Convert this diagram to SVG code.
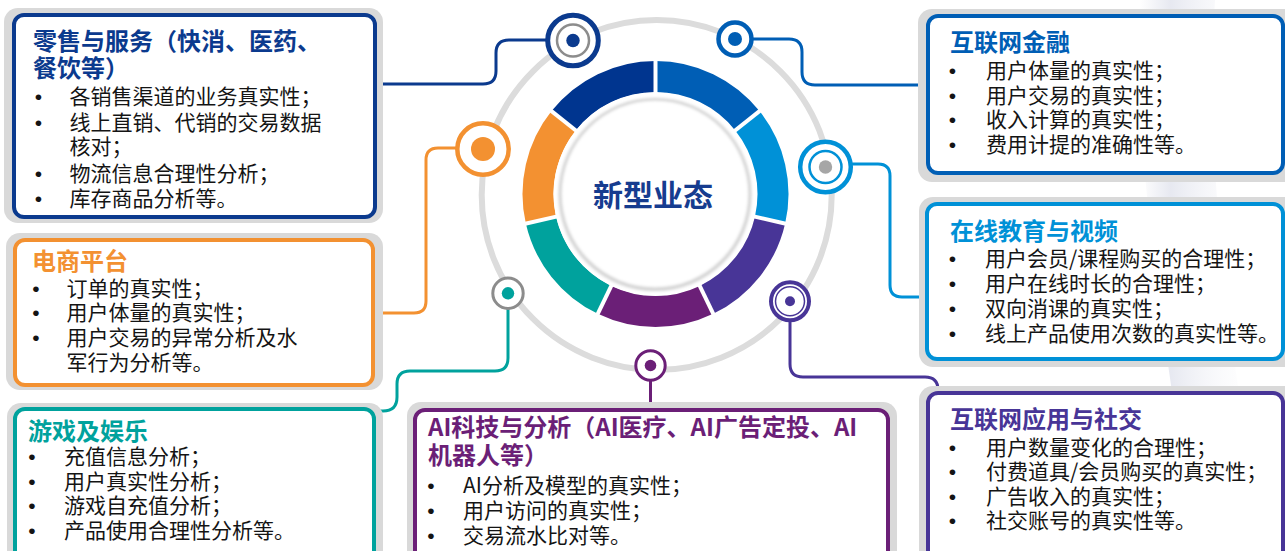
<svg xmlns="http://www.w3.org/2000/svg" width="1285" height="551" viewBox="0 0 1285 551">
  <defs>
    <style>
      .t { font-family: "Noto Sans CJK SC", "Noto Sans", sans-serif; font-weight: 700; font-size: 24px; }
      .b { font-family: "Noto Sans CJK SC", "Noto Sans", sans-serif; font-size: 21px; fill: #141414; }
      .d { font-family: "Liberation Sans", sans-serif; font-size: 21px; fill: #141414; text-anchor: middle; }
      .sh { fill: #d9d9d9; }
      .box { fill: #ffffff; stroke-width: 4; }
      .conn { fill: none; stroke-width: 3; stroke-linecap: round; }
      .seg { fill: none; stroke-width: 31; }
      .gap { stroke: #ffffff; stroke-width: 4; }
    </style>
    <linearGradient id="swoosh" x1="0" y1="0" x2="1" y2="0">
      <stop offset="0" stop-color="#e4e6ef" stop-opacity="0"/>
      <stop offset="0.25" stop-color="#e4e6ef" stop-opacity="0.9"/>
      <stop offset="1" stop-color="#ffffff" stop-opacity="0"/>
    </linearGradient>
    <filter id="soft" x="-20%" y="-20%" width="140%" height="140%">
      <feGaussianBlur stdDeviation="1.6"/>
    </filter>
  </defs>

  <rect x="0" y="0" width="1285" height="551" fill="#ffffff"/>
  <path d="M1140,0 L1215,0 C1205,150 1225,330 1265,551 L1195,551 C1165,330 1135,190 1140,0 Z" fill="url(#swoosh)"/>

  <!-- central node -->
  <g id="center">
    <circle cx="656.7" cy="195" r="175" fill="none" stroke="#dcdcdc" stroke-width="6"/>
    <path class="seg" stroke="#00358f" d="M655.5,76.5 A117.5,117.5 0 0 0 563.64,120.74"/>
    <path class="seg" stroke="#f39131" d="M563.64,120.74 A117.5,117.5 0 0 0 540.95,220.14"/>
    <path class="seg" stroke="#00a29d" d="M540.95,220.14 A117.5,117.5 0 0 0 604.52,299.87"/>
    <path class="seg" stroke="#6b1f77" d="M604.52,299.87 A117.5,117.5 0 0 0 706.48,299.87"/>
    <path class="seg" stroke="#483597" d="M706.48,299.87 A117.5,117.5 0 0 0 770.05,220.14"/>
    <path class="seg" stroke="#0091d7" d="M770.05,220.14 A117.5,117.5 0 0 0 747.36,120.74"/>
    <path class="seg" stroke="#005eb5" d="M747.36,120.74 A117.5,117.5 0 0 0 655.5,76.5"/>
    <line class="gap" x1="655.5" y1="99" x2="655.5" y2="57"/>
    <line class="gap" x1="581.23" y1="134.77" x2="548.39" y2="108.58"/>
    <line class="gap" x1="562.88" y1="215.14" x2="521.94" y2="224.48"/>
    <line class="gap" x1="614.28" y1="279.6" x2="596.06" y2="317.44"/>
    <line class="gap" x1="696.72" y1="279.6" x2="714.94" y2="317.44"/>
    <line class="gap" x1="748.12" y1="215.14" x2="789.06" y2="224.48"/>
    <line class="gap" x1="729.77" y1="134.77" x2="762.61" y2="108.58"/>
    <circle cx="655" cy="194" r="101.5" fill="#ffffff"/>
    <circle cx="655" cy="194.5" r="96.5" fill="#d2d2d2" filter="url(#soft)"/>
    <circle cx="655" cy="194" r="93.5" fill="#ffffff" filter="url(#soft)"/>
    <text x="653" y="206" text-anchor="middle" class="t" style="font-size:30px" fill="#163c8f">新型业态</text>
  </g>

  <!-- connectors -->
  <g id="connectors">
    <path class="conn" stroke="#0b3a8e" d="M377,84 H483 Q496,84 496,71 V53 Q496,40 509,40 H548"/>
    <path class="conn" stroke="#005eb5" d="M752,39 H789 Q802,39 802,52 V72 Q802,85 815,85 H926"/>
    <path class="conn" stroke="#f39131" d="M457,148 H438 Q426,148 426,160 V301 Q426,313 414,313 H375"/>
    <path class="conn" stroke="#0091d7" d="M851,164 H878 Q890,164 890,176 V285 Q890,297 902,297 H926"/>
    <path class="conn" stroke="#00a29d" d="M508,308 V358 Q508,371 495,371 H410 Q397,371 397,384 V397 Q397,411 383,411 H376"/>
    <path class="conn" stroke="#483597" d="M790,320 V364 Q790,377 803,377 H925 Q938,377 938,390 V392"/>
    <path class="conn" stroke="#6b1f77" d="M650.5,380 V409"/>

    <g id="marker-retail">
      <circle cx="573" cy="40.5" r="25.3" fill="#ffffff" stroke="#0b3a8e" stroke-width="5"/>
      <circle cx="573" cy="40.5" r="16" fill="none" stroke="#8c8c8c" stroke-width="2.5"/>
      <circle cx="573" cy="40.5" r="6.7" fill="#0b3a8e"/>
    </g>
    <g id="marker-finance">
      <circle cx="735" cy="39" r="16.5" fill="#ffffff" stroke="#005eb5" stroke-width="4.5"/>
      <circle cx="735" cy="39" r="7" fill="#005eb5"/>
    </g>
    <g id="marker-ecommerce">
      <circle cx="483" cy="149" r="25.7" fill="#ffffff" stroke="#f39131" stroke-width="4.5"/>
      <circle cx="483" cy="149" r="12" fill="#f39131"/>
    </g>
    <g id="marker-education">
      <circle cx="825.5" cy="167" r="25.3" fill="#ffffff" stroke="#0091d7" stroke-width="4.5"/>
      <circle cx="825.5" cy="167" r="16" fill="none" stroke="#0091d7" stroke-width="2.5"/>
      <circle cx="825.5" cy="167" r="6.7" fill="#a6a6a6"/>
    </g>
    <g id="marker-games">
      <circle cx="508" cy="293.3" r="15.2" fill="#ffffff" stroke="#8c8c8c" stroke-width="3"/>
      <circle cx="508" cy="293.3" r="6.2" fill="#00a29d"/>
    </g>
    <g id="marker-social">
      <circle cx="790" cy="301.3" r="19" fill="#ffffff" stroke="#483597" stroke-width="4"/>
      <circle cx="790" cy="301.3" r="14.5" fill="none" stroke="#483597" stroke-width="1.5"/>
      <circle cx="790" cy="301.3" r="5" fill="#483597"/>
    </g>
    <g id="marker-ai">
      <circle cx="650.5" cy="365.5" r="14.7" fill="#ffffff" stroke="#6b1f77" stroke-width="3"/>
      <circle cx="650.5" cy="365.5" r="5.8" fill="#6b1f77"/>
    </g>
  </g>

  <!-- retail -->
  <g id="node-retail">
    <rect class="sh" x="4" y="8" width="379" height="215" rx="14"/>
    <rect class="box" x="14" y="15" width="361" height="202" rx="10" stroke="#0b3a8e"/>
    <text class="t" x="33" y="49.5" fill="#0b3a8e">零售与服务（快消、医药、</text>
    <text class="t" x="33" y="76.5" fill="#0b3a8e">餐饮等）</text>
    <text class="d" x="38.5" y="104">•</text><text class="b" x="69.5" y="104">各销售渠道的业务真实性；</text>
    <text class="d" x="38.5" y="129.5">•</text><text class="b" x="69.5" y="129.5">线上直销、代销的交易数据</text>
    <text class="b" x="69.5" y="154">核对；</text>
    <text class="d" x="38.5" y="180.5">•</text><text class="b" x="69.5" y="180.5">物流信息合理性分析；</text>
    <text class="d" x="38.5" y="205.5">•</text><text class="b" x="69.5" y="205.5">库存商品分析等。</text>
  </g>

  <!-- e-commerce -->
  <g id="node-ecommerce">
    <rect class="sh" x="6" y="233" width="377" height="157" rx="14"/>
    <rect class="box" x="15" y="240" width="358" height="145" rx="10" stroke="#f39131"/>
    <text class="t" x="32" y="270" fill="#f39131">电商平台</text>
    <text class="d" x="36" y="295.5">•</text><text class="b" x="66.5" y="295.5">订单的真实性；</text>
    <text class="d" x="36" y="320">•</text><text class="b" x="66.5" y="320">用户体量的真实性；</text>
    <text class="d" x="36" y="345">•</text><text class="b" x="66.5" y="345">用户交易的异常分析及水</text>
    <text class="b" x="66.5" y="370">军行为分析等。</text>
  </g>

  <!-- games -->
  <g id="node-games">
    <rect class="sh" x="7" y="403" width="376" height="170" rx="14"/>
    <rect class="box" x="15" y="409" width="359" height="170" rx="10" stroke="#00a29d"/>
    <text class="t" x="28" y="440" fill="#00a29d">游戏及娱乐</text>
    <text class="d" x="32" y="464">•</text><text class="b" x="64" y="464">充值信息分析；</text>
    <text class="d" x="32" y="488.5">•</text><text class="b" x="64" y="488.5">用户真实性分析；</text>
    <text class="d" x="32" y="513">•</text><text class="b" x="64" y="513">游戏自充值分析；</text>
    <text class="d" x="32" y="538">•</text><text class="b" x="64" y="538">产品使用合理性分析等。</text>
  </g>

  <!-- AI -->
  <g id="node-ai">
    <rect class="sh" x="407" y="402" width="490" height="170" rx="14"/>
    <rect class="box" x="415" y="410" width="473" height="170" rx="10" stroke="#6b1f77"/>
    <text class="t" x="428" y="436" fill="#6b1f77">AI科技与分析（AI医疗、AI广告定投、AI</text>
    <text class="t" x="428" y="464" fill="#6b1f77">机器人等）</text>
    <text class="d" x="431" y="493">•</text><text class="b" x="463" y="493">AI分析及模型的真实性；</text>
    <text class="d" x="431" y="518">•</text><text class="b" x="463" y="518">用户访问的真实性；</text>
    <text class="d" x="431" y="543">•</text><text class="b" x="463" y="543">交易流水比对等。</text>
  </g>

  <!-- finance -->
  <g id="node-finance">
    <rect class="sh" x="918" y="9" width="380" height="173" rx="14"/>
    <rect class="box" x="928" y="16" width="355" height="157" rx="10" stroke="#005eb5"/>
    <text class="t" x="950" y="51" fill="#005eb5">互联网金融</text>
    <text class="d" x="952.5" y="77.5">•</text><text class="b" x="986" y="77.5">用户体量的真实性；</text>
    <text class="d" x="952.5" y="102.5">•</text><text class="b" x="986" y="102.5">用户交易的真实性；</text>
    <text class="d" x="952.5" y="126.5">•</text><text class="b" x="986" y="126.5">收入计算的真实性；</text>
    <text class="d" x="952.5" y="151.5">•</text><text class="b" x="986" y="151.5">费用计提的准确性等。</text>
  </g>

  <!-- education -->
  <g id="node-education">
    <rect class="sh" x="919" y="197" width="380" height="170" rx="14"/>
    <rect class="box" x="927" y="204" width="356" height="155" rx="10" stroke="#0091d7"/>
    <text class="t" x="950" y="240" fill="#0091d7">在线教育与视频</text>
    <text class="d" x="952.5" y="266">•</text><text class="b" x="985" y="266">用户会员/课程购买的合理性；</text>
    <text class="d" x="952.5" y="291">•</text><text class="b" x="985" y="291">用户在线时长的合理性；</text>
    <text class="d" x="952.5" y="316">•</text><text class="b" x="985" y="316">双向消课的真实性；</text>
    <text class="d" x="952.5" y="341">•</text><text class="b" x="985" y="341">线上产品使用次数的真实性等。</text>
  </g>

  <!-- social -->
  <g id="node-social">
    <rect class="sh" x="919" y="386" width="380" height="190" rx="14"/>
    <rect class="box" x="928" y="393" width="355" height="180" rx="10" stroke="#483597"/>
    <text class="t" x="950" y="428" fill="#483597">互联网应用与社交</text>
    <text class="d" x="952.5" y="455">•</text><text class="b" x="986" y="455">用户数量变化的合理性；</text>
    <text class="d" x="952.5" y="479">•</text><text class="b" x="986" y="479">付费道具/会员购买的真实性；</text>
    <text class="d" x="952.5" y="504">•</text><text class="b" x="986" y="504">广告收入的真实性；</text>
    <text class="d" x="952.5" y="528">•</text><text class="b" x="986" y="528">社交账号的真实性等。</text>
  </g>
</svg>
